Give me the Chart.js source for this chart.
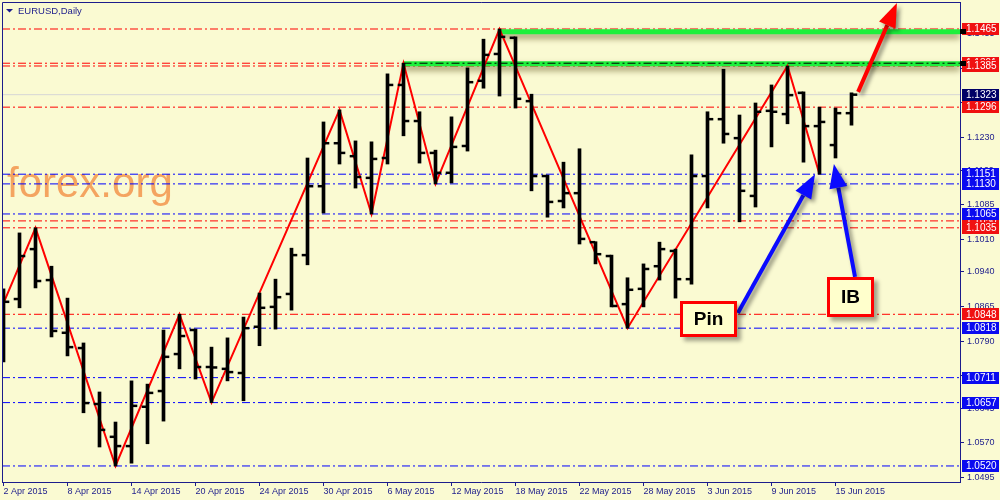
<!DOCTYPE html>
<html>
<head>
<meta charset="utf-8">
<title>EURUSD, Daily</title>
<script src="https://cdn.jsdelivr.net/npm/chart.js@4.4.1/dist/chart.umd.min.js"></script>
<style>
  html, body { margin: 0; padding: 0; background: #fafad2; overflow: hidden; }
  canvas { display: block; }
</style>
</head>
<body>
<canvas id="chart" width="1000" height="500"></canvas>
<script>
// daily bars, 2 Apr - 16 Jun 2015
const dates = [
  '2 Apr 2015', '3 Apr 2015', '6 Apr 2015', '7 Apr 2015', '8 Apr 2015', '9 Apr 2015', '10 Apr 2015',
  '13 Apr 2015', '14 Apr 2015', '15 Apr 2015', '16 Apr 2015', '17 Apr 2015', '20 Apr 2015', '21 Apr 2015',
  '22 Apr 2015', '23 Apr 2015', '24 Apr 2015', '27 Apr 2015', '28 Apr 2015', '29 Apr 2015', '30 Apr 2015',
  '1 May 2015', '4 May 2015', '5 May 2015', '6 May 2015', '7 May 2015', '8 May 2015', '11 May 2015',
  '12 May 2015', '13 May 2015', '14 May 2015', '15 May 2015', '18 May 2015', '19 May 2015', '20 May 2015',
  '21 May 2015', '22 May 2015', '25 May 2015', '26 May 2015', '27 May 2015', '28 May 2015', '29 May 2015',
  '1 Jun 2015', '2 Jun 2015', '3 Jun 2015', '4 Jun 2015', '5 Jun 2015', '8 Jun 2015', '9 Jun 2015',
  '10 Jun 2015', '11 Jun 2015', '12 Jun 2015', '15 Jun 2015', '16 Jun 2015'
];
const opens = [
  1.0879, 1.0881, 1.0989, 1.0922, 1.0808, 1.0775, 1.0654, 1.0583, 1.0563, 1.0648,
  1.0682, 1.0762, 1.0814, 1.0734, 1.0730, 1.0721, 1.0821, 1.0864, 1.0892, 1.0976,
  1.1125, 1.1218, 1.1190, 1.1143, 1.1186, 1.1344, 1.1266, 1.1197, 1.1154, 1.1212,
  1.1353, 1.1411, 1.1446, 1.1309, 1.1147, 1.1093, 1.1110, 1.1004, 1.0974, 1.0870,
  1.0903, 1.0952, 1.0985, 1.0924, 1.1147, 1.1270, 1.1229, 1.1104, 1.1288, 1.1281,
  1.1327, 1.1255, 1.1214, 1.1283
];
const highs = [
  1.0903, 1.1024, 1.1035, 1.0952, 1.0883, 1.0786, 1.0680, 1.0615, 1.0704, 1.0697,
  1.0814, 1.0848, 1.0816, 1.0777, 1.0797, 1.0842, 1.0894, 1.0924, 1.0991, 1.1186,
  1.1264, 1.1290, 1.1223, 1.1221, 1.1368, 1.1391, 1.1286, 1.1203, 1.1275, 1.1381,
  1.1443, 1.1465, 1.1448, 1.1324, 1.1149, 1.1177, 1.1206, 1.1005, 1.0976, 1.0927,
  1.0957, 1.1004, 1.0989, 1.1193, 1.1286, 1.1378, 1.1279, 1.1305, 1.1344, 1.1385,
  1.1329, 1.1296, 1.1294, 1.1327
];
const lows = [
  1.0745, 1.0862, 1.0905, 1.0799, 1.0758, 1.0635, 1.0561, 1.0520, 1.0526, 1.0568,
  1.0617, 1.0730, 1.0708, 1.0657, 1.0704, 1.0661, 1.0780, 1.0816, 1.0857, 1.0955,
  1.1067, 1.1173, 1.1121, 1.1065, 1.1173, 1.1234, 1.1175, 1.1130, 1.1132, 1.1201,
  1.1337, 1.1320, 1.1294, 1.1115, 1.1058, 1.1078, 1.1000, 1.0957, 1.0864, 1.0818,
  1.0864, 1.0922, 1.0883, 1.0913, 1.1078, 1.1218, 1.1048, 1.1080, 1.1210, 1.1260,
  1.1177, 1.1151, 1.1186, 1.1257
];
const closes = [
  1.0875, 1.0974, 1.0920, 1.0812, 1.0777, 1.0656, 1.0598, 1.0563, 1.0650, 1.0678,
  1.0756, 1.0801, 1.0734, 1.0733, 1.0723, 1.0818, 1.0862, 1.0885, 1.0976, 1.1125,
  1.1218, 1.1197, 1.1145, 1.1184, 1.1344, 1.1266, 1.1197, 1.1154, 1.1210, 1.1350,
  1.1409, 1.1448, 1.1314, 1.1147, 1.1091, 1.1110, 1.1011, 1.0978, 1.0866, 1.0901,
  1.0946, 1.0989, 1.0924, 1.1147, 1.1270, 1.1238, 1.1115, 1.1286, 1.1286, 1.1322,
  1.1255, 1.1264, 1.1283, 1.1323
];

// zigzag swing points (bar index, price)
const zigzagBars = [0, 2, 7, 11, 13, 21, 23, 25, 27, 31, 39, 49, 51];
const zigzagPrices = [1.0872, 1.1035, 1.0520, 1.0848, 1.0657, 1.1290, 1.1065, 1.1391, 1.1130, 1.1465, 1.0818, 1.1385, 1.1151];

// horizontal levels
const redLevels = [1.1465, 1.1391, 1.1385, 1.1296, 1.1050, 1.1035, 1.0848];
const blueLevels = [1.1151, 1.1130, 1.1065, 1.0818, 1.0711, 1.0657, 1.0520];
const lastPrice = 1.1323;
// green resistance bands (start bar, price)
const bandStarts = [25, 31];
const bandPrices = [1.1390, 1.1459];

const yTickLabels = ['1.1455', '1.1380', '1.1305', '1.1230', '1.1160', '1.1085', '1.1010',
  '1.0940', '1.0865', '1.0790', '1.0715', '1.0645', '1.0570', '1.0495'];
const dateTickBars = [0, 4, 8, 12, 16, 20, 24, 28, 32, 36, 40, 44, 48, 52];

// annotations in (bar index, price)
const arrows = [
  { from: [53.41, 1.1329], to: [55.84, 1.1521], color: '#ff0000' },
  { from: [45.90, 1.0851], to: [50.72, 1.1151], color: '#0a0aff' },
  { from: [53.22, 1.0929], to: [51.90, 1.1173], color: '#0a0aff' }
];
const callouts = [
  { text: 'Pin', at: [44.06, 1.0838], w: 57, h: 36 },
  { text: 'IB', at: [52.94, 1.0885], w: 47, h: 40 }
];

const NAVY = '#1c1c8c';
const FONT = "'Liberation Sans', Arial, sans-serif";
const X_MIN = -0.09375, X_MAX = X_MIN + 59.875;
const Y_MIN = 1.04853, Y_MAX = 1.15234;

Chart.defaults.font.family = FONT;
Chart.defaults.font.size = 9;
Chart.defaults.color = NAVY;

function hline(price, color, from, extra) {
  return Object.assign({
    type: 'line',
    data: [{ x: from, y: price }, { x: X_MAX, y: price }],
    borderColor: color,
    borderWidth: 1,
    borderDash: [8, 3, 2, 3],
    pointRadius: 0,
    order: 6
  }, extra || {});
}

const datasets = [];
redLevels.forEach(p => datasets.push(hline(p, '#ff0000', X_MIN)));
blueLevels.forEach(p => datasets.push(hline(p, '#0000ff', X_MIN)));
datasets.push(hline(lastPrice, '#d6d6d6', X_MIN, { borderDash: [], order: 7 }));
bandPrices.forEach((p, k) => datasets.push(hline(p, '#1ef03c', bandStarts[k], { borderDash: [], borderWidth: 5, order: 5, glow: true })));
datasets.push(hline(zigzagPrices[7], '#000000', bandStarts[0], { order: 4 }));
datasets.push({
  type: 'line',
  data: zigzagBars.map((b, k) => ({ x: b, y: zigzagPrices[k] })),
  borderColor: '#ff0000',
  borderWidth: 2,
  pointRadius: 0,
  tension: 0,
  order: 3
});
datasets.push({
  type: 'bar',
  data: dates.map((d, i) => ({ x: i, y: [lows[i], highs[i]] })),
  backgroundColor: '#000000',
  borderWidth: 0,
  barThickness: 3,
  grouped: false,
  order: 2
});
const tickStyle = {
  type: 'line',
  showLine: false,
  pointStyle: 'line',
  pointRadius: 2.75,
  pointBorderWidth: 2.5,
  pointBorderColor: '#000000',
  pointBackgroundColor: '#000000',
  order: 1
};
datasets.push(Object.assign({ data: opens.map((v, i) => ({ x: i - 0.19, y: v })) }, tickStyle));
datasets.push(Object.assign({ data: closes.map((v, i) => ({ x: i + 0.19, y: v })) }, tickStyle));

function drawArrow(ctx, x1, y1, x2, y2, color) {
  const a = Math.atan2(y2 - y1, x2 - x1);
  const L = 24, W = 9;
  const bx = x2 - L * Math.cos(a), by = y2 - L * Math.sin(a);
  ctx.save();
  ctx.shadowColor = 'rgba(0,0,0,0.45)';
  ctx.shadowBlur = 4;
  ctx.shadowOffsetX = 3;
  ctx.shadowOffsetY = 3;
  ctx.strokeStyle = color;
  ctx.fillStyle = color;
  ctx.lineWidth = 4;
  ctx.beginPath();
  ctx.moveTo(x1, y1);
  ctx.lineTo(bx, by);
  ctx.stroke();
  ctx.beginPath();
  ctx.moveTo(x2, y2);
  ctx.lineTo(bx - W * Math.sin(a), by + W * Math.cos(a));
  ctx.lineTo(bx + W * Math.sin(a), by - W * Math.cos(a));
  ctx.closePath();
  ctx.fill();
  ctx.restore();
}

const decor = {
  id: 'decor',
  beforeDraw(chart) {
    const ctx = chart.ctx;
    ctx.save();
    ctx.fillStyle = '#fafad2';
    ctx.fillRect(0, 0, chart.width, chart.height);
    ctx.restore();
  },
  beforeDatasetsDraw(chart) {
    const ctx = chart.ctx, a = chart.chartArea;
    ctx.save();
    ctx.fillStyle = '#f4a460';
    ctx.font = '42px ' + FONT;
    ctx.textBaseline = 'alphabetic';
    ctx.fillText('forex.org', a.left + 5, a.top + 195);
    ctx.restore();
  },
  beforeDatasetDraw(chart, args) {
    if (chart.data.datasets[args.index].glow) {
      const ctx = chart.ctx;
      ctx.save();
      ctx.shadowColor = 'rgba(70,55,0,0.55)';
      ctx.shadowBlur = 6;
      ctx.shadowOffsetY = 4;
    }
  },
  afterDatasetDraw(chart, args) {
    if (chart.data.datasets[args.index].glow) chart.ctx.restore();
  },
  afterDatasetsDraw(chart) {
    const ctx = chart.ctx, xs = chart.scales.x, ys = chart.scales.y;
    arrows.forEach(ar => drawArrow(ctx,
      xs.getPixelForValue(ar.from[0]), ys.getPixelForValue(ar.from[1]),
      xs.getPixelForValue(ar.to[0]), ys.getPixelForValue(ar.to[1]), ar.color));
    callouts.forEach(c => {
      const cx = xs.getPixelForValue(c.at[0]), cy = ys.getPixelForValue(c.at[1]);
      const x = Math.round(cx - c.w / 2), y = Math.round(cy - c.h / 2);
      ctx.save();
      ctx.shadowColor = 'rgba(0,0,0,0.35)';
      ctx.shadowBlur = 4;
      ctx.shadowOffsetX = 4;
      ctx.shadowOffsetY = 4;
      ctx.fillStyle = '#ffffcc';
      ctx.fillRect(x, y, c.w, c.h);
      ctx.shadowColor = 'transparent';
      ctx.strokeStyle = '#ff0000';
      ctx.lineWidth = 3;
      ctx.strokeRect(x + 1.5, y + 1.5, c.w - 3, c.h - 3);
      ctx.fillStyle = '#000000';
      ctx.font = 'bold 19px ' + FONT;
      ctx.textAlign = 'center';
      ctx.textBaseline = 'middle';
      ctx.fillText(c.text, x + c.w / 2, y + c.h / 2 + 1);
      ctx.restore();
    });
  },
  afterDraw(chart) {
    const ctx = chart.ctx, a = chart.chartArea, ys = chart.scales.y;
    ctx.save();
    // frame (top and left)
    ctx.strokeStyle = NAVY;
    ctx.lineWidth = 1;
    ctx.beginPath();
    ctx.moveTo(a.left + 0.5, a.bottom);
    ctx.lineTo(a.left + 0.5, a.top + 0.5);
    ctx.lineTo(a.right, a.top + 0.5);
    ctx.stroke();
    // price tags
    const tag = (p, bg) => {
      const y = ys.getPixelForValue(p);
      ctx.fillStyle = bg;
      ctx.fillRect(a.right + 2, Math.round(y - 6), 37, 12);
      ctx.fillStyle = '#ffffff';
      ctx.font = '10px ' + FONT;
      ctx.textAlign = 'left';
      ctx.textBaseline = 'middle';
      ctx.fillText(p.toFixed(4), a.right + 6, y + 0.5);
    };
    redLevels.forEach(p => tag(p, '#f01010'));
    blueLevels.forEach(p => tag(p, '#0a0af0'));
    tag(lastPrice, '#000066');
    // band anchors
    ctx.fillStyle = '#000000';
    bandPrices.forEach(p => {
      const y = ys.getPixelForValue(p);
      ctx.fillRect(a.right, Math.round(y - 2.5), 6, 5);
    });
    // header
    ctx.fillStyle = NAVY;
    ctx.beginPath();
    ctx.moveTo(6, 9);
    ctx.lineTo(13, 9);
    ctx.lineTo(9.5, 12.5);
    ctx.closePath();
    ctx.fill();
    ctx.font = '9.5px ' + FONT;
    ctx.textBaseline = 'middle';
    ctx.textAlign = 'left';
    ctx.fillText('EURUSD,Daily', 18, 11);
    ctx.restore();
  }
};

new Chart(document.getElementById('chart'), {
  type: 'line',
  data: { datasets: datasets },
  options: {
    responsive: false,
    animation: false,
    events: [],
    layout: { padding: { left: 2, top: 2, right: 0, bottom: 0 }, autoPadding: false },
    plugins: { legend: { display: false }, tooltip: { enabled: false } },
    scales: {
      x: {
        type: 'linear',
        position: 'bottom',
        offset: false,
        min: X_MIN,
        max: X_MAX,
        afterBuildTicks: s => { s.ticks = dateTickBars.map(v => ({ value: v })); },
        afterFit: s => { s.height = 18; s.paddingLeft = 0; s.paddingRight = 0; },
        ticks: {
          callback: v => dates[Math.round(v)],
          align: 'start',
          autoSkip: false,
          maxRotation: 0,
          padding: 0,
          color: NAVY,
          font: { size: 9 }
        },
        grid: { offset: false, drawOnChartArea: false, tickLength: 4, color: NAVY },
        border: { color: NAVY, width: 1 }
      },
      y: {
        type: 'linear',
        position: 'right',
        min: Y_MIN,
        max: Y_MAX,
        afterBuildTicks: s => { s.ticks = yTickLabels.map(t => ({ value: parseFloat(t) })); },
        afterFit: s => { s.width = 40; s.paddingTop = 0; s.paddingBottom = 0; },
        ticks: {
          callback: v => v.toFixed(4),
          padding: 3,
          color: NAVY,
          font: { size: 9 }
        },
        grid: { drawOnChartArea: false, tickLength: 4, color: NAVY },
        border: { color: NAVY, width: 1 }
      }
    }
  },
  plugins: [decor]
});
</script>
</body>
</html>
